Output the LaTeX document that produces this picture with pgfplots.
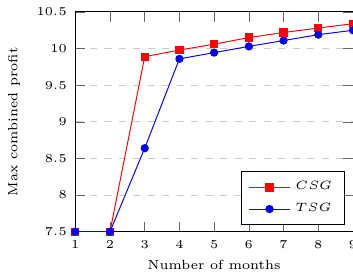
\documentclass[border=0pt]{standalone}
\usepackage{pgfplots}
\pgfplotsset{compat=1.18}
\newcommand{\ff}{\fontsize{5.5}{6.5}\selectfont}
\begin{document}
\begin{tikzpicture}[trim axis right]
\begin{axis}[
  scale only axis,
  width=115pt, height=91pt,
  xmin=1, xmax=9, ymin=7.5, ymax=10.5,
  xtick={1,...,9},
  ytick={7.5,8,8.5,9,9.5,10,10.5},
  ymajorgrids,
  grid style={dashed, gray!40},
  tick style={gray!80!black},
  major tick length=4pt,
  font=\ff,
  tick label style={font=\ff},
  label style={font=\ff},
  xlabel={Number of months},
  ylabel={Max combined profit},
  xlabel style={yshift=2pt},
  legend pos=south east,
  legend style={font=\ff, cells={anchor=west}},
  mark size=1.5pt,
]
\addplot[red, mark=square*, mark options={fill=red}] coordinates {
(1,7.5) (2,7.5) (3,9.89) (4,9.98) (5,10.06) (6,10.15) (7,10.22) (8,10.28) (9,10.34)};
\addlegendentry{$CSG$}
\addplot[blue, mark=*, mark options={fill=blue}] coordinates {
(1,7.5) (2,7.5) (3,8.64) (4,9.86) (5,9.945) (6,10.03) (7,10.11) (8,10.19) (9,10.25)};
\addlegendentry{$TSG$}
\end{axis}
\end{tikzpicture}
\end{document}
